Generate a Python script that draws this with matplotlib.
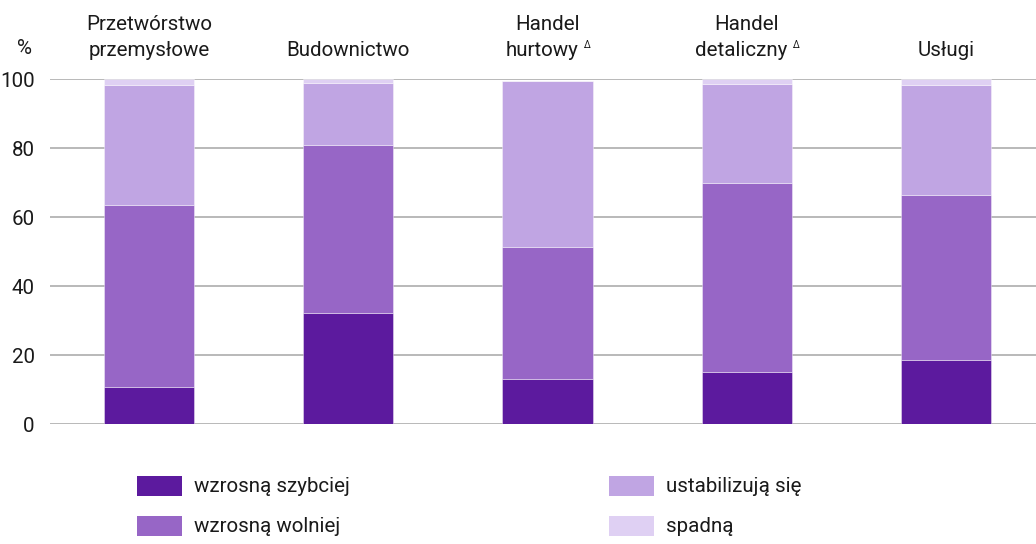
import matplotlib
matplotlib.use("Agg")
import matplotlib.pyplot as plt
from matplotlib.transforms import blended_transform_factory
from matplotlib.patches import Rectangle

# ---- data ----
categories_line1 = ["Przetwórstwo", "", "Handel", "Handel", ""]
categories_line2 = ["przemysłowe", "Budownictwo", "hurtowy", "detaliczny", "Usługi"]
has_delta = [False, False, True, True, False]
series_names = ["wzrosną szybciej", "wzrosną wolniej", "ustabilizują się", "spadną"]
wzrosna_szybciej = [10.7, 32.3, 13.1, 15.3, 18.7]
wzrosna_wolniej = [52.8, 48.7, 38.4, 54.6, 47.8]
ustabilizuja_sie = [34.9, 18.0, 48.1, 28.7, 31.9]
spadna = [1.6, 1.0, 0.0, 1.4, 1.6]
yticks = [0, 20, 40, 60, 80, 100]

colors = ["#5c1a9e", "#9766c6", "#c0a5e3", "#dfd0f3"]

W, H = 1036, 544
plt.rcParams['font.family'] = ['Roboto', 'DejaVu Sans']
fig = plt.figure(figsize=(W / 100, H / 100), dpi=100)
FS = 14.8

def fx(x):
    return x / W

def fy(y):
    return 1 - y / H

ax_left, ax_right, ax_top, ax_bottom = 50, 1036, 79.3, 424.3
ax = fig.add_axes([fx(ax_left), fy(ax_bottom), fx(ax_right - ax_left), (ax_bottom - ax_top) / H])

x = list(range(len(wzrosna_szybciej)))
series = [wzrosna_szybciej, wzrosna_wolniej, ustabilizuja_sie, spadna]
bottom = [0.0] * len(x)
for vals, col, name in zip(series, colors, series_names):
    ax.bar(x, vals, width=0.453, bottom=bottom, color=col, edgecolor=(1, 1, 1, 0.45),
           linewidth=0.6, zorder=3, label=name)
    bottom = [b + v for b, v in zip(bottom, vals)]

ax.set_ylim(0, 100)
ax.set_xlim(-0.4967, 4.4506)
ax.set_yticks(yticks)
ax.yaxis.grid(True, color="#b3b3b3", linewidth=1.3, zorder=0)
ax.set_axisbelow(True)
ax.set_xticks([])
for s in ax.spines.values():
    s.set_visible(False)
ax.tick_params(axis='y', length=0, pad=11, labelsize=FS, labelcolor="#1a1a1a")

# % label
fig.text(fx(25), fy(48), "%", ha='center', va='center', fontsize=FS, color="#1a1a1a")

# category labels
tr = blended_transform_factory(ax.transData, fig.transFigure)
for i in x:
    off = -0.03 if has_delta[i] else 0.0
    if categories_line1[i]:
        ax.text(i, fy(25), categories_line1[i], ha='center', va='center', fontsize=FS,
                color="#1a1a1a", transform=tr)
    t = ax.text(i + off, fy(50), categories_line2[i], ha='center', va='center', fontsize=FS,
                color="#1a1a1a", transform=tr)
    if has_delta[i]:
        ax.annotate("Δ", xy=(1, 0.75), xycoords=t, xytext=(4, 0), textcoords='offset points',
                    ha='left', va='center', fontsize=7, color="#1a1a1a")

# legend (manual)
leg_items = [(137, 486, 0), (137, 526, 1), (609, 486, 2), (609, 526, 3)]
for lx, ly, k in leg_items:
    fig.patches.append(Rectangle((fx(lx), fy(ly + 10)), fx(45), 20 / H, transform=fig.transFigure,
                                 facecolor=colors[k], edgecolor='none'))
    fig.text(fx(lx + 57), fy(ly), series_names[k], ha='left', va='center', fontsize=FS,
             color="#1a1a1a")

fig.savefig("out.png", dpi=100)
